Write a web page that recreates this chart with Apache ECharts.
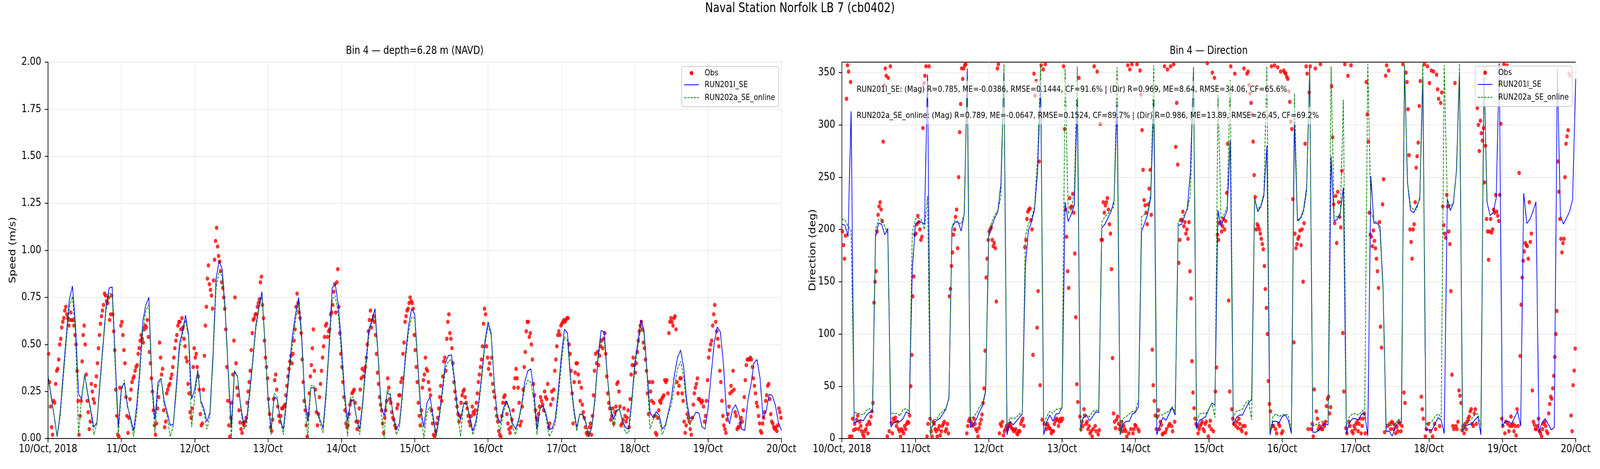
<!DOCTYPE html>
<html>
<head>
<meta charset="utf-8">
<title>Naval Station Norfolk LB 7 (cb0402)</title>
<script src="https://cdn.jsdelivr.net/npm/echarts@6/dist/echarts.min.js"></script>
<style>
  html, body { margin: 0; padding: 0; background: #fff; overflow: hidden; }
  #chart { width: 5000px; height: 1200px; transform-origin: 0 0; }
</style>
</head>
<body>
<div id="chart"></div>
<script>
// x axis: hours since 10/Oct 00:00, one label per day
const tickLabels = ['10/Oct, 2018', '11/Oct', '12/Oct', '13/Oct', '14/Oct', '15/Oct',
    '16/Oct', '17/Oct', '18/Oct', '19/Oct', '20/Oct'];
const seriesNames = ['Obs', 'RUN201l_SE', 'RUN202a_SE_online'];
const statsText = [
    'RUN201l_SE: (Mag) R=0.785, ME=-0.0386, RMSE=0.1444, CF=91.6% | (Dir) R=0.969, ME=8.64, RMSE=34.06, CF=65.6%',
    'RUN202a_SE_online: (Mag) R=0.789, ME=-0.0647, RMSE=0.1524, CF=89.7% | (Dir) R=0.986, ME=13.89, RMSE=26.45, CF=69.2%'
];

// model speed (m/s), hourly from 10/Oct 00:00
const speedRun201 = [
    0.335, 0.23, 0.12, 0.01, 0.14, 0.35, 0.55, 0.74, 0.81, 0.60,
    0.235, 0.21, 0.34, 0.24, 0.15, 0.06, 0.085, 0.30, 0.50, 0.70,
    0.80, 0.805, 0.42, 0.06, 0.27, 0.295, 0.17, 0.11, 0.04, 0.17,
    0.36, 0.62, 0.71, 0.75, 0.30, 0.10, 0.30, 0.32, 0.20, 0.14,
    0.07, 0.075, 0.28, 0.50, 0.57, 0.655, 0.55, 0.21, 0.26, 0.365,
    0.20, 0.16, 0.09, 0.14, 0.45, 0.85, 0.945, 0.90, 0.68, 0.35,
    0.06, 0.36, 0.33, 0.18, 0.08, 0.10, 0.25, 0.42, 0.60, 0.70,
    0.78, 0.50, 0.22, 0.05, 0.22, 0.21, 0.10, 0.05, 0.20, 0.38,
    0.55, 0.66, 0.75, 0.55, 0.22, 0.09, 0.27, 0.27, 0.15, 0.10,
    0.055, 0.25, 0.50, 0.80, 0.82, 0.71, 0.50, 0.25, 0.09, 0.20,
    0.205, 0.10, 0.05, 0.20, 0.40, 0.58, 0.63, 0.69, 0.45, 0.17,
    0.12, 0.245, 0.23, 0.12, 0.05, 0.08, 0.25, 0.45, 0.60, 0.69,
    0.66, 0.40, 0.15, 0.06, 0.19, 0.22, 0.12, 0.02, 0.12, 0.25,
    0.40, 0.44, 0.445, 0.32, 0.15, 0.10, 0.185, 0.185, 0.12, 0.04,
    0.09, 0.20, 0.35, 0.52, 0.62, 0.56, 0.30, 0.12, 0.08, 0.16,
    0.20, 0.16, 0.08, 0.05, 0.10, 0.18, 0.30, 0.36, 0.37, 0.25,
    0.05, 0.16, 0.175, 0.13, 0.047, 0.055, 0.105, 0.26, 0.44, 0.58,
    0.56, 0.32, 0.17, 0.058, 0.13, 0.128, 0.085, 0.008, 0.07, 0.22,
    0.44, 0.574, 0.566, 0.34, 0.17, 0.10, 0.15, 0.155, 0.093, 0.058,
    0.05, 0.20, 0.40, 0.51, 0.63, 0.578, 0.36, 0.14, 0.11, 0.143,
    0.124, 0.05, 0.07, 0.14, 0.216, 0.34, 0.43, 0.47, 0.378, 0.20,
    0.108, 0.108, 0.14, 0.135, 0.062, 0.05, 0.162, 0.34, 0.505, 0.593,
    0.566, 0.40, 0.14, 0.078, 0.155, 0.18, 0.135, 0.05, 0.043, 0.20,
    0.285, 0.40, 0.42, 0.32, 0.108, 0.147, 0.235, 0.228, 0.178, 0.085,
    0.043
];
const speedRun202 = [
    0.33, 0.22, 0.12, 0.01, 0.12, 0.32, 0.52, 0.70, 0.755, 0.56,
    0.02, 0.22, 0.34, 0.23, 0.14, 0.02, 0.08, 0.28, 0.48, 0.68,
    0.77, 0.77, 0.38, 0.02, 0.25, 0.31, 0.18, 0.10, 0.01, 0.13,
    0.33, 0.57, 0.68, 0.71, 0.28, 0.03, 0.27, 0.32, 0.18, 0.12,
    0.01, 0.07, 0.25, 0.47, 0.55, 0.63, 0.54, 0.06, 0.22, 0.36,
    0.19, 0.14, 0.05, 0.12, 0.42, 0.80, 0.89, 0.86, 0.66, 0.33,
    0.00, 0.35, 0.33, 0.17, 0.05, 0.07, 0.23, 0.40, 0.58, 0.69,
    0.755, 0.52, 0.20, 0.02, 0.24, 0.22, 0.10, 0.02, 0.18, 0.35,
    0.50, 0.63, 0.715, 0.52, 0.20, 0.00, 0.28, 0.28, 0.15, 0.08,
    0.03, 0.22, 0.47, 0.74, 0.76, 0.66, 0.45, 0.22, 0.01, 0.22,
    0.22, 0.10, 0.02, 0.18, 0.37, 0.55, 0.62, 0.655, 0.44, 0.15,
    0.00, 0.26, 0.24, 0.12, 0.02, 0.06, 0.23, 0.42, 0.57, 0.645,
    0.64, 0.38, 0.12, 0.00, 0.14, 0.17, 0.10, 0.01, 0.10, 0.23,
    0.37, 0.41, 0.42, 0.30, 0.13, 0.01, 0.19, 0.19, 0.10, 0.02,
    0.07, 0.18, 0.33, 0.50, 0.60, 0.55, 0.30, 0.10, 0.04, 0.14,
    0.19, 0.15, 0.06, 0.02, 0.09, 0.17, 0.27, 0.31, 0.30, 0.20,
    0.02, 0.16, 0.17, 0.11, 0.01, 0.04, 0.08, 0.22, 0.40, 0.54,
    0.52, 0.30, 0.15, 0.04, 0.13, 0.12, 0.08, 0.01, 0.06, 0.20,
    0.42, 0.53, 0.53, 0.33, 0.16, 0.06, 0.14, 0.16, 0.09, 0.03,
    0.03, 0.18, 0.37, 0.49, 0.59, 0.56, 0.34, 0.05, 0.10, 0.13,
    0.10, 0.02, 0.06, 0.13, 0.18, 0.28, 0.37, 0.41, 0.33, 0.17,
    0.07, 0.11
];

// observed speed (m/s), every 20 min from 10/Oct 00:10
const speedObs = [
    0.45,0.30,0.17, 0.06,0.02,0.20, 0.19,0.29,0.36, 0.37,0.42,0.50,
    0.53,0.59,0.62, 0.64,0.68,0.70, 0.66,0.64,0.60, 0.63,0.67,0.63,
    0.63,0.60,0.55, 0.50,0.36,0.20, 0.02,0.12,0.20, 0.41,0.55,0.60,
    0.50,0.34,0.20, 0.14,0.05,0.09, 0.29,0.25,0.21, 0.19,0.28,0.33,
    0.40,0.48,0.55, 0.61,0.65,0.68, 0.71,0.77,0.76, 0.73,0.72,0.75,
    0.63,0.66,0.76, 0.66,0.57,0.47, 0.26,0.12,0.02, 0.01,0.27,0.60,
    0.62,0.55,0.47, 0.40,0.22,0.12, 0.03,0.11,0.21, 0.26,0.30,0.32,
    0.33,0.36,0.38, 0.39,0.45,0.48, 0.52,0.55,0.53, 0.51,0.58,0.60,
    0.59,0.63,0.54, 0.46,0.40,0.32, 0.25,0.15,0.07, 0.02,0.08,0.16,
    0.22,0.51,0.43, 0.34,0.37,0.15, 0.06,0.09,0.24, 0.26,0.28,0.29,
    0.32,0.34,0.38, 0.43,0.48,0.52, 0.55,0.60,0.62, 0.62,0.58,0.64,
    0.59,0.53,0.49, 0.43,0.41,0.29, 0.24,0.14,0.11, 0.16,0.38,0.48,
    0.43,0.45,0.38, 0.33,0.26,0.13, 0.07,0.08,0.26, 0.44,0.60,0.70,
    0.85,0.92,0.82, 0.79,0.76,0.69, 0.84,0.95,1.05, 1.12,1.02,0.97,
    0.94,0.89,0.83, 0.80,0.75,0.69, 0.58,0.38,0.20, 0.07,0.01,0.11,
    0.19,0.34,0.52, 0.75,0.40,0.27, 0.23,0.15,0.085, 0.05,0.03,0.08,
    0.07,0.09,0.11, 0.19,0.25,0.30, 0.36,0.47,0.56, 0.63,0.64,0.66,
    0.66,0.70,0.72, 0.74,0.83,0.86, 0.71,0.64,0.52, 0.43,0.38,0.32,
    0.21,0.13,0.06, 0.04,0.10,0.21, 0.31,0.34,0.26, 0.17,0.12,0.09,
    0.12,0.16,0.16, 0.17,0.18,0.23, 0.28,0.33,0.37, 0.41,0.44,0.40,
    0.45,0.52,0.58, 0.70,0.77,0.72, 0.67,0.64,0.56, 0.42,0.30,0.20,
    0.15,0.07,0.01, 0.13,0.24,0.33, 0.39,0.48,0.58, 0.36,0.26,0.14,
    0.07,0.13,0.22, 0.29,0.36,0.43, 0.49,0.54,0.60, 0.61,0.54,0.57,
    0.58,0.66,0.67, 0.71,0.78,0.82, 0.67,0.83,0.90, 0.70,0.56,0.45,
    0.38,0.30,0.22, 0.15,0.08,0.06, 0.07,0.13,0.18, 0.20,0.24,0.25,
    0.26,0.19,0.09, 0.05,0.09,0.16, 0.26,0.32,0.37, 0.33,0.36,0.38,
    0.43,0.50,0.57, 0.63,0.68,0.59, 0.63,0.65,0.62, 0.55,0.45,0.35,
    0.29,0.22,0.18, 0.15,0.08,0.03, 0.11,0.15,0.20, 0.32,0.27,0.21,
    0.19,0.14,0.11, 0.10,0.07,0.055, 0.16,0.18,0.23, 0.23,0.30,0.32,
    0.45,0.51,0.62, 0.65,0.68,0.69, 0.72,0.75,0.73, 0.72,0.69,0.55,
    0.47,0.38,0.30, 0.19,0.12,0.07, 0.15,0.27,0.31, 0.34,0.43,0.37,
    0.36,0.30,0.26, 0.23,0.15,0.08, 0.02,0.01,0.04, 0.08,0.11,0.16,
    0.22,0.28,0.20, 0.33,0.41,0.43, 0.36,0.53,0.62, 0.66,0.56,0.53,
    0.48,0.40,0.30, 0.25,0.21,0.17, 0.13,0.09,0.12, 0.19,0.23,0.25,
    0.26,0.22,0.19, 0.16,0.12,0.09, 0.07,0.12,0.17, 0.14,0.13,0.15,
    0.19,0.24,0.30, 0.34,0.38,0.42, 0.49,0.61,0.69, 0.66,0.49,0.43,
    0.37,0.40,0.34, 0.43,0.29,0.25, 0.22,0.16,0.12, 0.09,0.04,0.02,
    0.01,0.12,0.19, 0.22,0.23,0.19, 0.13,0.08,0.05, 0.03,0.06,0.10,
    0.15,0.27,0.32, 0.37,0.32,0.27, 0.19,0.07,0.09, 0.17,0.26,0.38,
    0.46,0.57,0.62, 0.62,0.54,0.56, 0.50,0.42,0.29, 0.23,0.15,0.11,
    0.10,0.13,0.17, 0.22,0.20,0.18, 0.15,0.25,0.22, 0.21,0.29,0.06,
    0.08,0.18,0.25, 0.21,0.26,0.36, 0.42,0.49,0.55, 0.57,0.55,0.60,
    0.61,0.62,0.63, 0.62,0.63,0.64, 0.64,0.50,0.45, 0.36,0.24,0.08,
    0.30,0.35,0.40, 0.40,0.34,0.30, 0.20,0.27,0.18, 0.14,0.11,0.06,
    0.03,0.02,0.03, 0.06,0.08,0.02, 0.12,0.23,0.36, 0.45,0.40,0.46,
    0.39,0.44,0.49, 0.52,0.48,0.53, 0.56,0.45,0.33, 0.24,0.19,0.16,
    0.10,0.12,0.16, 0.08,0.14,0.17, 0.29,0.30,0.25, 0.17,0.07,0.08,
    0.10,0.16,0.12, 0.09,0.11,0.15, 0.06,0.21,0.34, 0.39,0.43,0.39,
    0.35,0.40,0.46, 0.52,0.57,0.60, 0.62,0.58,0.51, 0.48,0.42,0.36,
    0.24,0.13,0.30, 0.25,0.20,0.30, 0.19,0.12,0.03, 0.02,0.11,0.15,
    0.20,0.19,0.21, 0.22,0.23,0.31, 0.30,0.31,0.24, 0.56,0.62,0.64,
    0.62,0.60,0.64, 0.65,0.58,0.30, 0.24,0.28,0.32, 0.32,0.24,0.20,
    0.09,0.03,0.07, 0.13,0.11,0.09, 0.05,0.02,0.11, 0.18,0.24,0.27,
    0.29,0.32,0.21, 0.21,0.20,0.19, 0.20,0.17,0.09, 0.12,0.20,0.31,
    0.43,0.47,0.50, 0.52,0.60,0.66, 0.71,0.62,0.57, 0.53,0.49,0.36,
    0.30,0.20,0.12, 0.07,0.05,0.03, 0.10,0.13,0.17, 0.24,0.28,0.25,
    0.36,0.26,0.14, 0.12,0.05,0.06, 0.06,0.08,0.11, 0.09,0.15,0.22,
    0.31,0.39,0.42, 0.42,0.42,0.43, 0.42,0.38,0.32, 0.28,0.24,0.19,
    0.17,0.12,0.08, 0.04,0.03,0.08, 0.11,0.14,0.20, 0.23,0.28,0.29,
    0.21,0.13,0.09, 0.08,0.06,0.05, 0.06,0.04,0.07, 0.16,0.14,0.11
];

// model direction (deg), hourly from 10/Oct 00:00
const dirRun201 = [
    205, 204, 193, 313, 15, 16, 18, 17, 22, 25,
    26, 193, 206, 205, 195, 201, 11, 15, 16.5, 16,
    19, 25.5, 23.5, 160, 204, 207.5, 207, 205, 348, 9.5,
    14, 17.5, 19, 23.5, 28, 39, 201.5, 207, 207, 198.5,
    214.5, 354, 10.5, 14, 18.5, 26, 31, 45, 193, 203,
    211, 217, 244, 350, 3.5, 16.5, 13, 16.5, 20, 23.5,
    165, 199, 207, 219, 256, 341, 3.5, 16.5, 22.5, 16.5,
    23.5, 24, 30, 226, 207.5, 214.5, 223, 324, 10, 20,
    22.5, 17, 21, 25.5, 25, 201.5, 205, 211, 217, 227.5,
    320, 3.5, 14, 16.5, 16.5, 23.5, 25, 30.5, 198, 206,
    214.5, 230, 324, 3.5, 13, 20, 17.5, 23.5, 29.5, 22.5,
    204, 204.5, 212, 220.5, 256, 355, 9.5, 17.5, 19, 21,
    28, 34, 32, 218, 203, 211, 218, 285, 13, 20,
    22.5, 22.5, 28.5, 34, 37.5, 230, 217, 221.5, 232, 280,
    3.5, 16.5, 16.5, 15, 21, 22.5, 17.5, 4.7, 303, 208.5,
    211, 219, 240, 354, 6, 6, 8, 12, 14, 13,
    270, 208, 209.5, 216, 240, 4.7, 15, 19, 19, 17.7,
    23.6, 23.6, 2.4, 251, 206, 206, 203, 144, 7, 7,
    2.4, 10.6, 15.3, 15.3, 356, 244, 218, 216, 222, 229,
    345.5, 8.3, 8.3, 8.3, 14, 20, 17.7, 4.7, 229, 218,
    225, 256, 350, 7, 12, 13.4, 14, 17.7, 21, 3.5,
    355, 226, 213.4, 216, 230, 359, 11.8, 16.5, 16.5, 14,
    20, 26, 11.8, 234.7, 205.7, 209.4, 217, 226.4, 5.9, 15.3,
    18.9, 14, 8.3, 10.6, 353.8, 213.4, 205, 211, 217, 228.8,
    344
];
const dirRun202 = [
    210, 209, 203, 199, 25, 24.5, 23.5, 22.5, 27, 28.5,
    27, 200, 210, 210, 203, 196, 24, 24, 24, 21.5,
    28, 28.5, 26, 196, 210, 211, 209, 200, 232, 3,
    18, 18.5, 23.5, 26, 29, 38, 203, 209, 207, 205,
    215, 344, 18, 21, 24, 30.5, 33, 47, 198, 207,
    214, 218, 231, 358, 12, 20, 19, 20, 23.5, 23.5,
    193, 205, 210, 222, 269, 357, 14, 21, 26, 24,
    28, 28, 30, 354, 215, 219, 236, 356, 6, 23,
    22, 21, 26, 27, 27, 207, 212, 215, 218.5, 222,
    355, 4.7, 19, 21, 23.5, 26, 26, 37, 212, 214.5,
    216, 234.5, 357, 18, 23, 22.5, 25, 26, 30.5, 25,
    207.5, 209, 214.5, 219, 233.5, 354, 16, 23.5, 24.5, 23.5,
    28, 34, 20, 329, 210, 214.5, 221.5, 343, 20, 26,
    27, 28, 34, 36.5, 18, 229, 219, 223, 234.5, 356,
    6, 21, 23.5, 21, 22.5, 23.5, 22, 8, 330, 207.5,
    210, 217, 236, 352, 12, 13, 15, 16.5, 16, 16.5,
    356, 212, 212, 212, 324, 12, 21, 23.6, 23.6, 22.5,
    26, 28, 358, 217, 207.5, 207.5, 198, 141, 14, 13,
    12, 14, 18, 19, 358, 245, 222, 219, 219, 231,
    358, 14, 14, 16.5, 21, 23.6, 20, 357, 228.8, 221.7,
    226.4, 256, 358.5, 7, 14, 16.5, 19, 22.4, 23.6, 12,
    356, 228.8
];

// observed direction (deg), every 20 min from 10/Oct 00:10
const dirObs = [
    198,185,172, 194,325,357, 351,2,341, 2,19,8,
    14,9,18, 22,9,16, 12,7,4, 2,7,9,
    13,5,16, 14,21,26, 34,130,150, 160,198,214,
    222,226,219, 208,284,338, 354,347,2, 345,7,356,
    15,5,19, 17,20,12, 16,9,7, 2,9,7,
    5,12,9, 14,16,15, 22,50,80, 136,155,195,
    196,205,213, 207,200,190, 193,297,340, 347,356,2,
    14,356,19, 7,2,16, 14,9,7, 2,9,12,
    3,7,12, 14,16,7, 9,14,5, 136,143,165,
    178,195,200, 212,219,182, 250,293,320, 354,344,354,
    357,358,5, 12,17,19, 16,14,12, 19,14,9,
    7,2,10, 14,18,23, 34,48,84, 154,172,190,
    198,200,202, 190,184,187, 182,131,354, 358,5,14,
    12,16,3, 7,9,12, 9,12,14, 12,10,9,
    7,8,9, 5,4,7, 7,14,17, 19,12,183,
    190,210,217, 219,220,209, 200,80,349, 328,342,106,
    141,265,51, 357,18,353, 14,358,9, 14,12,10,
    9,5,7, 7,14,17, 19,18,12, 16,19,17,
    19,356,296, 219,193,160, 144,230,221, 222,234,216,
    177,116,52, 35,345,21, 9,16,12, 28,22,14,
    16,9,12, 5,7,2, 9,356,12, 7,351,4,
    8,301,190, 190,226,216, 223,226,230, 219,205,196,
    162,77,24, 16,10,18, 21,14,9, 12,16,7,
    12,9,7, 2,357,5, 353,9,358, 5,9,13,
    12,358,9, 7,352,329, 295,257,228, 223,216,205,
    224,239,257, 214,85,51, 36,22,9, 21,27,9,
    16,13,4, 5,356,6, 9,353,12, 14,356,12,
    7,358,16, 279,321,262, 168,190,209, 209,217,203,
    207,196,200, 191,207,160, 134,74,44, 29,19,14,
    12,5,9, 12,14,16, 9,7,14, 16,359,2,
    12,17,9, 350,7,345, 45,68,195, 190,206,207,
    198,203,210, 200,208,235, 282,132,45, 356,28,19,
    14,349,12, 16,10,19, 14,9,7, 12,354,12,
    5,349,351, 338,330,321, 310,284,252, 231,200,205,
    203,200,196, 191,186,181, 165,143,125, 100,55,33,
    26,356,12, 12,357,9, 5,355,14, 12,351,5,
    7,352,350, 349,346,344, 332,322,303, 296,229,92,
    196,182,186, 191,193,199, 185,200,150, 206,282,356,
    349,9,331, 356,9,14, 2,47,354, 26,19,9,
    12,358,9, 9,14,12, 16,31,38, 40,24,30,
    337,288,224, 206,232,187, 236,226,212, 202,256,101,
    45,358,10, 5,347,16, 12,357,7, 5,12,9,
    14,16,7, 14,19,5, 12,19,24, 5,341,310,
    284,216,195, 193,184,199, 189,182,172, 160,144,207,
    107,87,224, 248,6,347, 357,12,352, 14,9,16,
    15,9,13, 5,11,7, 16,14,7, 12,358,44,
    34,350,341, 315,271,200, 188,172,200, 205,226,259,
    270,283,318, 342,40,28, 19,358,2, 9,356,14,
    340,7,352, 2,351,14, 9,348,334, 325,12,321,
    331,222,204, 196,192,233, 222,198,186, 141,61,12,
    9,340,12, 9,16,46, 41,34,8, 12,5,14,
    9,16,19, 21,26,28, 14,12,24, 28,14,316,
    300,275,304, 292,285,297, 245,280,210, 198,171,198,
    210,197,200, 219,216,233, 217,213,208, 233,301,19,
    12,358,5, 16,357,14, 7,12,21, 12,14,7,
    12,3,28, 12,254,79, 128,154,170, 179,187,185,
    184,172,226, 188,196,46, 16,13,9, 9,12,19,
    7,5,2, 9,14,16, 12,7,5, 24,33,40,
    38,48,60, 78,100,122, 265,236,210, 191,178,187,
    191,250,282, 289,295,349, 347,22,7, 51,65,86
];

const FONT = "'DejaVu Sans'";
const BLACK = '#000000';
const OBS_COLOR = '#ff0000';
const RUN201_COLOR = '#0000ff';
const RUN202_COLOR = '#008000';

// the figure is laid out on a 5000x1200 sheet, then squeezed onto whatever viewport we get
const dom = document.getElementById('chart');
dom.style.transform = 'scale(' + (window.innerWidth / 5000) + ',' + (window.innerHeight / 1200) + ')';

function hourly(values) {
    return values.map((v, i) => [i, v]);
}
// obs samples sit in the middle of each 20 min slot
function every20min(values) {
    return values.map((v, i) => [i / 3 + 1 / 6, v]);
}

function makeXAxis(gridIndex) {
    return {
        type: 'value', gridIndex: gridIndex,
        min: 0, max: 240, interval: 24,
        axisLine: { show: true, onZero: false, lineStyle: { color: BLACK, width: 2 } },
        axisTick: { show: true, length: 10, lineStyle: { color: BLACK, width: 2 } },
        axisLabel: {
            color: BLACK, fontSize: 28, fontFamily: FONT, margin: 14,
            formatter: v => tickLabels[Math.round(v / 24)]
        },
        splitLine: { show: true, lineStyle: { color: '#ebebeb', width: 2 } }
    };
}

function panelSeries(idx, obs, run201, run202) {
    return [
        {
            name: seriesNames[0], type: 'scatter', xAxisIndex: idx, yAxisIndex: idx,
            data: every20min(obs), symbol: 'circle', symbolSize: 11,
            itemStyle: { color: OBS_COLOR }, clip: true, z: 2
        },
        {
            name: seriesNames[1], type: 'line', xAxisIndex: idx, yAxisIndex: idx,
            data: hourly(run201), showSymbol: false, symbol: 'none',
            lineStyle: { color: RUN201_COLOR, width: 2.2 },
            clip: true, z: 3
        },
        {
            name: seriesNames[2], type: 'line', xAxisIndex: idx, yAxisIndex: idx,
            data: hourly(run202), showSymbol: false, symbol: 'none',
            lineStyle: { color: RUN202_COLOR, width: 2.2, type: [7, 3] },
            clip: true, z: 4
        }
    ];
}

// legend box drawn by hand so that the keys look like the matplotlib ones
function legendBox(lx, ly) {
    const txt = (t, y) => ({
        type: 'text', x: lx + 72, y: ly + y, z: 101,
        style: { text: t, fontSize: 22, fontFamily: FONT, fill: BLACK, align: 'left', verticalAlign: 'middle' }
    });
    return [
        { type: 'rect', z: 100, shape: { x: lx, y: ly, width: 303, height: 103, r: 6 },
          style: { fill: 'rgba(255,255,255,0.8)', stroke: '#cccccc', lineWidth: 2 } },
        { type: 'circle', z: 101, shape: { cx: lx + 31, cy: ly + 17, r: 5.5 },
          style: { fill: OBS_COLOR } },
        { type: 'line', z: 101, shape: { x1: lx + 8, y1: ly + 47, x2: lx + 54, y2: ly + 47 },
          style: { stroke: RUN201_COLOR, lineWidth: 2.2 } },
        { type: 'line', z: 101, shape: { x1: lx + 8, y1: ly + 80, x2: lx + 54, y2: ly + 80 },
          style: { stroke: RUN202_COLOR, lineWidth: 2.2, lineDash: [7, 3] } },
        txt(seriesNames[0], 17), txt(seriesNames[1], 47), txt(seriesNames[2], 80)
    ];
}

function label(t, x, y, size, rotate) {
    return {
        type: 'text', x: x, y: y, rotation: rotate ? Math.PI / 2 : 0, z: 100,
        style: { text: t, fontSize: size, fontFamily: FONT, fill: BLACK, align: 'center', verticalAlign: 'middle' }
    };
}

function statsLine(t, y) {
    return {
        type: 'text', x: 2666, y: y, z: 100,
        style: { text: t, fontSize: 22, fontFamily: FONT, fill: BLACK, align: 'left', verticalAlign: 'middle',
                 backgroundColor: 'rgba(255,255,255,0.6)', padding: [11, 11] }
    };
}

const chart = echarts.init(dom, null, { width: 5000, height: 1200 });

const option = {
    animation: false,
    backgroundColor: '#ffffff',
    grid: [
        { left: 150, top: 159, width: 2292, height: 963, show: true, borderColor: BLACK, borderWidth: 2 },
        { left: 2631, top: 159, width: 2293, height: 963, show: true, borderColor: BLACK, borderWidth: 2 }
    ],
    xAxis: [makeXAxis(0), makeXAxis(1)],
    yAxis: [
        {
            type: 'value', gridIndex: 0, min: 0, max: 2, interval: 0.25,
            axisLine: { show: true, lineStyle: { color: BLACK, width: 2 } },
            axisTick: { show: true, length: 10, lineStyle: { color: BLACK, width: 2 } },
            axisLabel: { color: BLACK, fontSize: 28, fontFamily: FONT, margin: 21, formatter: v => v.toFixed(2) },
            splitLine: { show: true, lineStyle: { color: '#ebebeb', width: 2 } }
        },
        {
            type: 'value', gridIndex: 1, min: 0, max: 360, interval: 50,
            axisLine: { show: true, lineStyle: { color: BLACK, width: 2 } },
            axisTick: { show: true, length: 10, lineStyle: { color: BLACK, width: 2 },
                customValues: [0, 50, 100, 150, 200, 250, 300, 350] },
            axisLabel: { color: BLACK, fontSize: 28, fontFamily: FONT, margin: 21,
                customValues: [0, 50, 100, 150, 200, 250, 300, 350],
                formatter: v => (v >= 360 ? '' : String(v)) },
            splitLine: { show: true, lineStyle: { color: '#ebebeb', width: 2 } }
        }
    ],
    series: [].concat(
        panelSeries(0, speedObs, speedRun201, speedRun202),
        panelSeries(1, dirObs, dirRun201, dirRun202)
    ),
    graphic: [].concat(
        [
            label('Naval Station Norfolk LB 7 (cb0402)', 2500, 22, 33),
            label('Bin 4 \u2014 depth=6.28 m (NAVD)', 1296, 131, 28),
            label('Bin 4 \u2014 Direction', 3777, 131, 28),
            label('Speed (m/s)', 41, 640, 28, true),
            label('Direction (deg)', 2541, 640, 28, true),
            statsLine(statsText[0], 229),
            statsLine(statsText[1], 296)
        ],
        legendBox(2130, 170),
        legendBox(4610, 169)
    )
};

chart.setOption(option);
</script>
</body>
</html>
